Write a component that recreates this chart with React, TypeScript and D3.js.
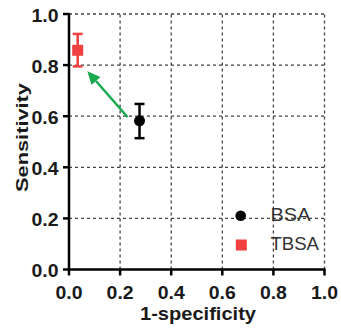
import React from "react";
import * as d3 from "d3";

const seriesNames = ["BSA", "TBSA"];
const seriesColors = ["#000000", "#f04040"];
const specificity1 = [0.276, 0.034];
const sensitivity = [0.582, 0.858];
const errLow = [0.514, 0.795];
const errHigh = [0.648, 0.922];
const xTicks = [0, 0.2, 0.4, 0.6, 0.8, 1.0];
const yTicks = [0, 0.2, 0.4, 0.6, 0.8, 1.0];
const arrowFrom = [0.229, 0.597];
const arrowTo = [0.072, 0.776];

export default function App() {
  const W = 341, H = 330;
  const x = d3.scaleLinear().domain([0, 1]).range([69, 324.5]);
  const y = d3.scaleLinear().domain([0, 1]).range([269.5, 14]);
  const font = "Arial, 'Liberation Sans', sans-serif";
  const ax = x(arrowFrom[0]), ay = y(arrowFrom[1]);
  const bx = x(arrowTo[0]), by = y(arrowTo[1]);
  const ang = Math.atan2(by - ay, bx - ax);
  const headLen = 13, headW = 6;
  const hx = bx - headLen * Math.cos(ang), hy = by - headLen * Math.sin(ang);
  const px = -Math.sin(ang), py = Math.cos(ang);
  return (
    <svg width={W} height={H} style={{ position: "absolute", left: 0, top: 0 }}>
      <rect width={W} height={H} fill="#fff" />
      {/* grid */}
      {xTicks.slice(1).map((t) => (
        <line key={"gx" + t} x1={x(t)} x2={x(t)} y1={y(0)} y2={y(1)} stroke="#444" strokeWidth={1.3} strokeDasharray="3,3" />
      ))}
      {yTicks.slice(1).map((t) => (
        <line key={"gy" + t} x1={x(0)} x2={x(1)} y1={y(t)} y2={y(t)} stroke="#444" strokeWidth={1.3} strokeDasharray="3,3" />
      ))}
      {/* axes */}
      <line x1={x(0)} x2={x(1) + 1} y1={y(0)} y2={y(0)} stroke="#000" strokeWidth={2.5} />
      <line x1={x(0)} x2={x(0)} y1={y(0) + 1} y2={y(1) - 1} stroke="#000" strokeWidth={2.5} />
      {xTicks.map((t) => (
        <g key={"xt" + t}>
          <line x1={x(t)} x2={x(t)} y1={y(0)} y2={y(0) + 6} stroke="#000" strokeWidth={2.5} />
          <text x={x(t)} y={y(0) + 29.5} textAnchor="middle" fontFamily={font} fontWeight="bold" fontSize={18} fill="#1a1a1a" textLength={27} lengthAdjust="spacingAndGlyphs">{t.toFixed(1)}</text>
        </g>
      ))}
      {yTicks.map((t) => (
        <g key={"yt" + t}>
          <line x1={x(0) - 6} x2={x(0)} y1={y(t)} y2={y(t)} stroke="#000" strokeWidth={2.5} />
          <text x={x(0) - 10.5} y={y(t) + 7.5} textAnchor="end" fontFamily={font} fontWeight="bold" fontSize={18} fill="#1a1a1a" textLength={27} lengthAdjust="spacingAndGlyphs">{t.toFixed(1)}</text>
        </g>
      ))}
      <text x={198} y={320} textAnchor="middle" fontFamily={font} fontWeight="bold" fontSize={18.5} fill="#1a1a1a" textLength={116} lengthAdjust="spacingAndGlyphs">1-specificity</text>
      <text transform={`translate(27.5,137.5) rotate(-90)`} textAnchor="middle" fontFamily={font} fontWeight="bold" fontSize={17} fill="#1a1a1a" textLength={109} lengthAdjust="spacingAndGlyphs">Sensitivity</text>
      {/* arrow */}
      <line x1={ax} y1={ay} x2={hx} y2={hy} stroke="#1aaa50" strokeWidth={2.5} />
      <polygon points={`${bx},${by} ${hx + px * headW},${hy + py * headW} ${hx - px * headW},${hy - py * headW}`} fill="#1aaa50" />
      {/* points with error bars */}
      {seriesNames.map((n, i) => {
        const cx = x(specificity1[i]);
        const c = seriesColors[i];
        return (
          <g key={n}>
            <line x1={cx} x2={cx} y1={y(errLow[i])} y2={y(errHigh[i])} stroke={c} strokeWidth={2.5} />
            <line x1={cx - 5} x2={cx + 5} y1={y(errLow[i])} y2={y(errLow[i])} stroke={c} strokeWidth={2.5} />
            <line x1={cx - 5} x2={cx + 5} y1={y(errHigh[i])} y2={y(errHigh[i])} stroke={c} strokeWidth={2.5} />
            {i === 0 ? (
              <circle cx={cx} cy={y(sensitivity[i])} r={5.5} fill={c} />
            ) : (
              <rect x={cx - 5.5} y={y(sensitivity[i]) - 5.5} width={11} height={11} fill={c} />
            )}
          </g>
        );
      })}
      {/* legend */}
      {seriesNames.map((n, i) => {
        const ly = 215.7 + i * 29.3;
        const c = seriesColors[i];
        return (
          <g key={"lg" + n}>
            {i === 0 ? (
              <circle cx={240.7} cy={ly} r={5.3} fill={c} />
            ) : (
              <rect x={235.8} y={ly - 5.5} width={11} height={11} fill={c} />
            )}
            <text x={270.5} y={ly + 5.3} fontFamily={font} fontSize={17.5} fill="#333" textLength={i === 0 ? 40 : 48.5} lengthAdjust="spacingAndGlyphs">{n}</text>
          </g>
        );
      })}
    </svg>
  );
}
